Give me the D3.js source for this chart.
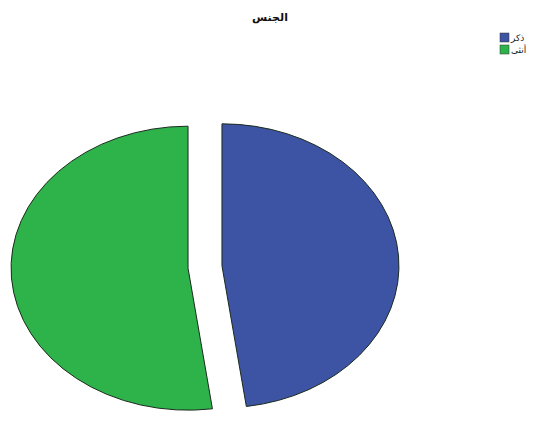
<!DOCTYPE html>
<html>
<head>
<meta charset="utf-8">
<script src="https://cdn.jsdelivr.net/npm/d3@7"></script>
<style>
  body { margin: 0; background: #fff; }
  text { font-family: "DejaVu Sans", "Noto Sans", sans-serif; }
</style>
</head>
<body>
<div id="chart"></div>
<script>
// data (percent)
const labels = ['ذكر', 'أنثى']
const values = [47.8, 52.2]
const colors = ['#3d53a3', '#2eb34b']
const title = 'الجنس'

const width = 541
const height = 423
const center = {x: 205, y: 267}
const rx = 177
const ry = 142
const explode = 17

const svg = d3.select('#chart')
  .append('svg')
  .attr('width', width)
  .attr('height', height)

svg.append('text')
  .attr('x', 270)
  .attr('y', 21)
  .attr('text-anchor', 'middle')
  .attr('font-size', 11)
  .attr('font-weight', 'bold')
  .attr('fill', '#111')
  .text(title)

const rows = labels.map((l, i) => ({label: l, value: values[i], color: colors[i]}))

const pie = d3.pie().sort(null).value(d => d.value)
const arc = d3.arc().innerRadius(0).outerRadius(ry)

const slices = svg.selectAll('g.slice')
  .data(pie(rows))
  .enter()
  .append('g')
  .attr('class', 'slice')
  .attr('transform', d => {
    const mid = (d.startAngle + d.endAngle) / 2
    const dx = Math.sin(mid) * explode
    const dy = -Math.cos(mid) * explode
    return `translate(${center.x + dx},${center.y + dy}) scale(${rx / ry},1)`
  })

slices.append('path')
  .attr('d', arc)
  .attr('fill', d => d.data.color)
  .attr('stroke', '#1b2a1e')
  .attr('stroke-width', 1)
  .attr('vector-effect', 'non-scaling-stroke')

// legend
const legend = svg.selectAll('g.legend')
  .data(rows)
  .enter()
  .append('g')
  .attr('class', 'legend')
  .attr('transform', (d, i) => `translate(500,${33 + i * 12})`)

legend.append('rect')
  .attr('width', 9)
  .attr('height', 9)
  .attr('fill', d => d.color)
  .attr('stroke', '#333')
  .attr('stroke-width', 0.5)

legend.append('text')
  .attr('x', 11)
  .attr('y', 8)
  .attr('font-size', 9)
  .attr('fill', '#222')
  .text(d => d.label)
</script>
</body>
</html>
